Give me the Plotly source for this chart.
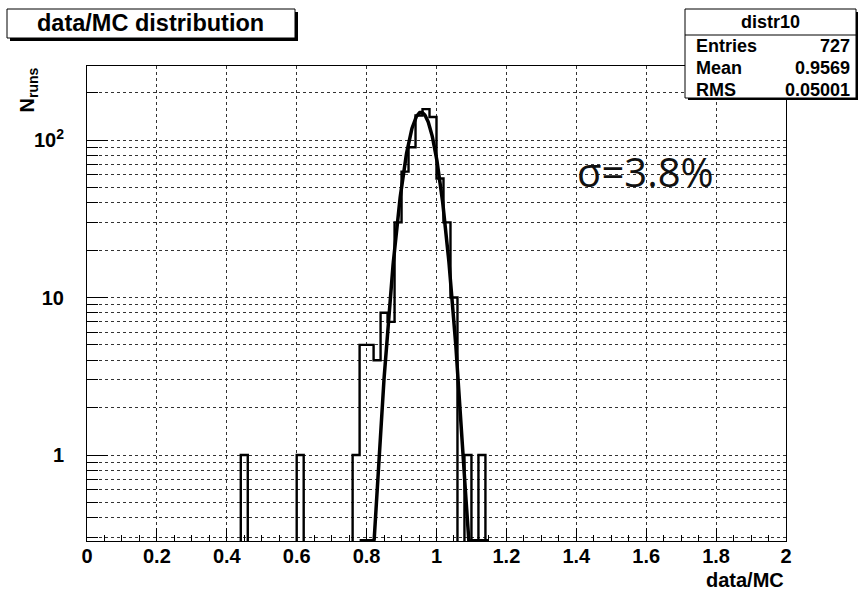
import numpy as np
import plotly.graph_objects as go

# ---- data ----
bin_width = 0.02
n_bins = 100
bin_low_edges = [0.44, 0.60, 0.76, 0.78, 0.80, 0.82, 0.84, 0.86, 0.88, 0.90,
                 0.92, 0.94, 0.96, 0.98, 1.00, 1.02, 1.04, 1.08, 1.12]
bin_counts = [1, 1, 1, 5, 5, 4, 8, 7, 30, 63,
              90, 143, 157, 140, 57, 30, 10, 1, 1]

# Gaussian fit parameters
fit_const = 150.0
fit_mean = 0.956
fit_sigma = 0.038
fit_range = [0.78, 1.15]

stats_title = "distr10"
stats_labels = ["Entries", "Mean", "RMS"]
stats_values = ["727", "0.9569", "0.05001"]

x_tick_vals = [0, 0.2, 0.4, 0.6, 0.8, 1.0, 1.2, 1.4, 1.6, 1.8, 2.0]
x_tick_text = ["0", "0.2", "0.4", "0.6", "0.8", "1", "1.2", "1.4", "1.6", "1.8", "2"]
y_tick_vals = [1, 10, 100]
y_tick_text = ["1", "10", "10<sup>2</sup>"]
y_minor_vals = [0.3, 0.4, 0.5, 0.6, 0.7, 0.8, 0.9,
                2, 3, 4, 5, 6, 7, 8, 9,
                20, 30, 40, 50, 60, 70, 80, 90, 200]

Y_MIN, Y_MAX = 0.2845, 295.0

# ---- layout geometry (pixels) ----
W, H = 859, 591
L, R, T, B = 87, 786, 66, 541


def px(x):
    return (x - L) / (R - L)


def py(y):
    return (B - y) / (B - T)


# full histogram
counts_full = np.zeros(n_bins)
for lo, c in zip(bin_low_edges, bin_counts):
    counts_full[int(round(lo / bin_width))] = c
edges = np.arange(n_bins + 1) * bin_width
yplot = np.where(counts_full > 0, counts_full, 1e-3)
yplot = np.append(yplot, yplot[-1])

xf = np.linspace(fit_range[0], fit_range[1], 400)
yf = fit_const * np.exp(-0.5 * ((xf - fit_mean) / fit_sigma) ** 2)
yf = np.maximum(yf, Y_MIN * 1.005)

FONT = "Liberation Sans, Arial, sans-serif"
GRID = "#333"

fig = go.Figure()
fig.add_trace(go.Scatter(x=edges, y=yplot, mode="lines", line_shape="hv",
                         line=dict(color="black", width=2.4), showlegend=False))
fig.add_trace(go.Scatter(x=xf, y=yf, mode="lines",
                         line=dict(color="black", width=3.5), showlegend=False))

fig.update_layout(
    width=W, height=H,
    margin=dict(l=L, r=W - R, t=T, b=H - B, autoexpand=False),
    paper_bgcolor="white", plot_bgcolor="white",
    font=dict(family=FONT, color="black"),
    showlegend=False,
)
fig.update_xaxes(
    range=[0, 2], tickmode="array", tickvals=x_tick_vals, ticktext=x_tick_text,
    tickfont=dict(size=20, family=FONT, weight="bold", color="black"),
    ticks="inside", ticklen=13, tickcolor="black", tickwidth=1,
    showline=True, linecolor="black", linewidth=1, mirror=True,
    showgrid=True, gridcolor=GRID, griddash="dot", gridwidth=1,
    minor=dict(dtick=0.05, tick0=0, ticks="inside", ticklen=6, tickcolor="black", showgrid=False),
    zeroline=False, ticklabelstandoff=-3,
)
fig.update_yaxes(
    type="log", range=[np.log10(Y_MIN), np.log10(Y_MAX)],
    tickmode="array", tickvals=y_tick_vals, ticktext=y_tick_text,
    tickfont=dict(size=20, family=FONT, weight="bold", color="black"),
    ticks="inside", ticklen=21, tickcolor="black", tickwidth=1,
    showline=True, linecolor="black", linewidth=1, mirror=True,
    showgrid=True, gridcolor=GRID, griddash="dot", gridwidth=1,
    minor=dict(tickmode="array", tickvals=y_minor_vals, ticks="inside", ticklen=11,
               tickcolor="black", showgrid=True, gridcolor=GRID, griddash="dot", gridwidth=1),
    zeroline=False, ticklabelstandoff=18,
)

shapes = []
# title box with shadow
shapes.append(dict(type="rect", xref="paper", yref="paper",
                   x0=px(10), x1=px(298), y0=py(41), y1=py(12),
                   fillcolor="black", line=dict(width=0)))
shapes.append(dict(type="rect", xref="paper", yref="paper",
                   x0=px(7), x1=px(295), y0=py(38), y1=py(9),
                   fillcolor="white", line=dict(color="black", width=1)))
# stats box with shadow
shapes.append(dict(type="rect", xref="paper", yref="paper",
                   x0=px(688), x1=px(858), y0=py(100), y1=py(12),
                   fillcolor="black", line=dict(width=0)))
shapes.append(dict(type="rect", xref="paper", yref="paper",
                   x0=px(685), x1=px(856), y0=py(98), y1=py(9),
                   fillcolor="white", line=dict(color="black", width=1)))
shapes.append(dict(type="line", xref="paper", yref="paper",
                   x0=px(685), x1=px(856), y0=py(35), y1=py(35),
                   line=dict(color="black", width=1)))
fig.update_layout(shapes=shapes)

ann = []
ann.append(dict(text="<b>data/MC distribution</b>", xref="paper", yref="paper",
                x=px(150), y=py(23), xanchor="center", yanchor="middle", showarrow=False,
                font=dict(size=23.5, family=FONT, color="black")))
ann.append(dict(text="<b>" + stats_title + "</b>", xref="paper", yref="paper",
                x=px(770), y=py(22), xanchor="center", yanchor="middle", showarrow=False,
                font=dict(size=18, family=FONT, color="black")))
row_y = [46, 68, 90]
for lab, val, yy in zip(stats_labels, stats_values, row_y):
    ann.append(dict(text="<b>" + lab + "</b>", xref="paper", yref="paper",
                    x=px(694), y=py(yy), xanchor="left", yanchor="middle", showarrow=False,
                    font=dict(size=18, family=FONT, color="black")))
    ann.append(dict(text="<b>" + val + "</b>", xref="paper", yref="paper",
                    x=px(852), y=py(yy), xanchor="right", yanchor="middle", showarrow=False,
                    font=dict(size=18, family=FONT, color="black")))
ann.append(dict(text="<b>data/MC</b>", xref="paper", yref="paper",
                x=px(786), y=py(580), xanchor="right", yanchor="middle", showarrow=False,
                font=dict(size=20, family=FONT, color="black")))
ann.append(dict(text="<b>N<sub>runs</sub></b>", xref="paper", yref="paper",
                x=px(28), y=py(66), xanchor="center", yanchor="top", showarrow=False,
                textangle=-90, font=dict(size=20, family=FONT, color="black")))
ann.append(dict(text="σ=3.8%", xref="paper", yref="paper",
                x=px(575), y=py(171), xanchor="left", yanchor="middle", showarrow=False,
                font=dict(size=40, family="Open Sans, Noto Sans, sans-serif", color="#111")))
fig.update_layout(annotations=ann)

fig.write_html("out.html")
